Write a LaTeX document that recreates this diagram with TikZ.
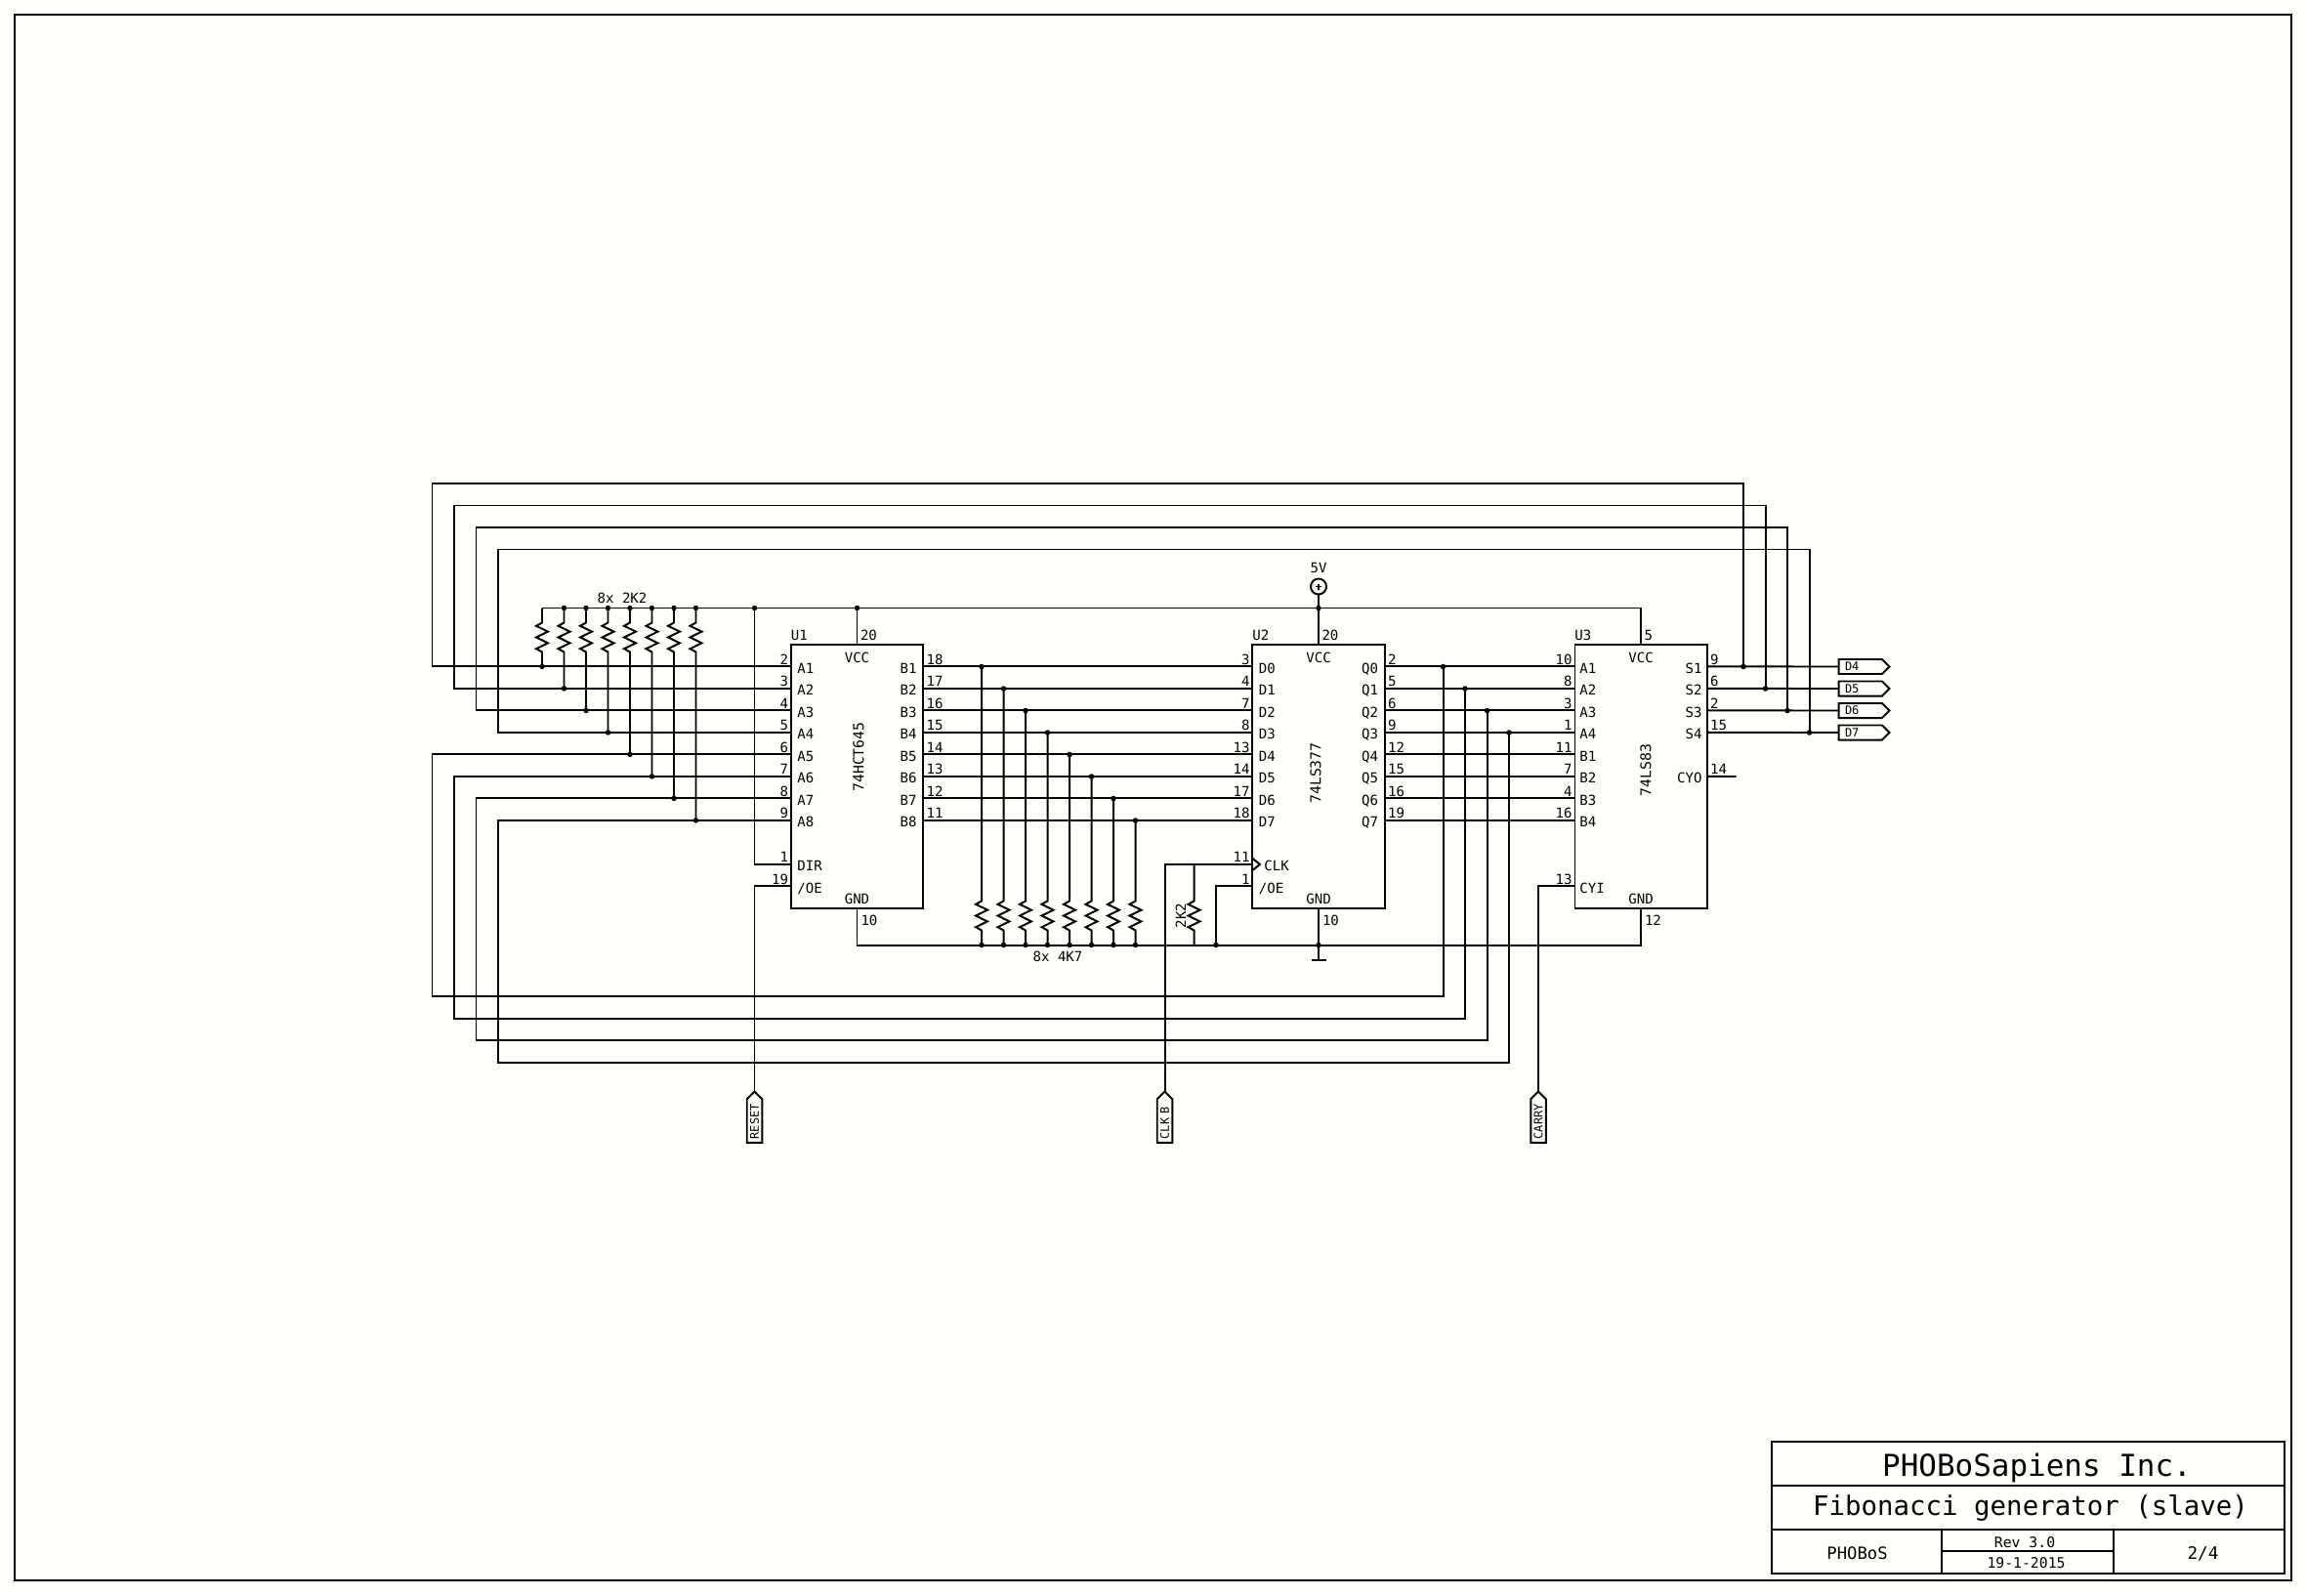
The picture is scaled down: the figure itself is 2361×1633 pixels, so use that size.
\documentclass[tikz,border=0pt]{standalone}
\usepackage{fontspec}
\setmainfont{DejaVu Sans Mono}
\usetikzlibrary{calc, shapes.symbols}
\definecolor{xpaper}{HTML}{FFFFFB}
\newcommand{\fsize}[1]{\fontsize{#1pt}{#1pt}\selectfont}
\newcommand{\zigzag}{-- ++(-6,3.3) -- ++(12,5.85) -- ++(-12,5.85) -- ++(12,5.85) -- ++(-12,5.85) -- ++(6,3.3)}
\tikzset{
  wire/.style={line width=0.56pt, line join=miter},
  chip/.style={wire, draw, inner sep=0, outer sep=0, minimum width=1.35cm, minimum height=2.7cm},
  dot/.style={circle, fill=black, inner sep=0, outer sep=0, minimum size=0.055cm},
  label/.style={font=\fsize{4}, inner sep=0, outer sep=0, anchor=base},
  partname/.style={font=\fsize{4.2}, inner sep=0, outer sep=0, rotate=90},
  htag/.style={wire, draw, signal, signal to=east, font=\fsize{3.4}, inner ysep=0, inner xsep=0.065cm, outer sep=0, minimum height=0.15cm, text width=0.315cm, anchor=west},
  vtag/.style={wire, draw, signal, signal to=east, font=\fsize{3.4}, inner ysep=0, inner xsep=0.035cm, outer sep=0, minimum height=0.155cm, text width=0.375cm, rotate=90, anchor=east},
}
\newcommand{\leftpins}[3]{
  \foreach \pname/\ptext/\pnum/\i in {#3} {
    \coordinate (#1\pname) at ($(#1.north west)+(0,22.5*\i)$);
    \node[label, anchor=base west] (#1\pname t) at ($(#1\pname)+(#2,7)$) {\ptext};
    \node[label, anchor=base east] (#1\pname n) at ($(#1\pname)+(-3,-2)$) {\pnum};
  }
}
\newcommand{\rightpins}[3]{
  \foreach \pname/\ptext/\pnum/\i in {#3} {
    \coordinate (#1\pname) at ($(#1.north east)+(0,22.5*\i)$);
    \node[label, anchor=base east] (#1\pname t) at ($(#1\pname)+(-#2,7)$) {\ptext};
    \node[label, anchor=base west] (#1\pname n) at ($(#1\pname)+(3.5,-2)$) {\pnum};
  }
}

\begin{document}
\begin{tikzpicture}[x=0.01cm, y=-0.01cm]
	\fill[xpaper] (0,0) rectangle (2361,1633);
	\useasboundingbox (0,0) rectangle (2361,1633);
	\draw[wire] (15,15) rectangle (2346,1618);

	\node[chip] (U1) at (877.5,795) {};
	\node[chip] (U2) at (1350,795) {};
	\node[chip] (U3) at (1680,795) {};

	\leftpins{U1}{6.5}{a1/A1/2/1, a2/A2/3/2, a3/A3/4/3, a4/A4/5/4, a5/A5/6/5, a6/A6/7/6, a7/A7/8/7, a8/A8/9/8, dir/DIR/1/10, oe/{/OE}/19/11}
	\rightpins{U1}{6.5}{b1/B1/18/1, b2/B2/17/2, b3/B3/16/3, b4/B4/15/4, b5/B5/14/5, b6/B6/13/6, b7/B7/12/7, b8/B8/11/8}
	\leftpins{U2}{6.5}{d0/D0/3/1, d1/D1/4/2, d2/D2/7/3, d3/D3/8/4, d4/D4/13/5, d5/D5/14/6, d6/D6/17/7, d7/D7/18/8, clk/{\hspace*{0.055cm}CLK}/11/10, oe/{/OE}/1/11}
	\rightpins{U2}{6.5}{q0/Q0/2/1, q1/Q1/5/2, q2/Q2/6/3, q3/Q3/9/4, q4/Q4/12/5, q5/Q5/15/6, q6/Q6/16/7, q7/Q7/19/8}
	\leftpins{U3}{5}{a1/A1/10/1, a2/A2/8/2, a3/A3/3/3, a4/A4/1/4, b1/B1/11/5, b2/B2/7/6, b3/B3/4/7, b4/B4/16/8, cyi/CYI/13/11}
	\rightpins{U3}{5}{s1/S1/9/1, s2/S2/6/2, s3/S3/2/3, s4/S4/15/4, cyo/CYO/14/6}

	\foreach \chip/\vnum/\gnum in {U1/20/10, U2/20/10, U3/5/12} {
		\node[label] (\chip vcc) at ($(\chip.north)+(0,18.5)$) {VCC};
		\node[label] (\chip gnd) at ($(\chip.south)+(0,-4.5)$) {GND};
		\node[label, anchor=base west] (\chip ref) at ($(\chip.north west)+(0,-4)$) {\chip};
		\node[label, anchor=base west] (\chip vn) at ($(\chip.north)+(3.5,-4)$) {\vnum};
		\node[label, anchor=base west] (\chip gn) at ($(\chip.south)+(4,17)$) {\gnum};
	}
	\node[partname] (U1part) at (879,775) {74HCT645};
	\node[partname] (U2part) at (1347,791.5) {74LS377};
	\node[partname] (U3part) at (1685,788.5) {74LS83};

	\draw[wire] ($(U2clk)+(0,-6)$) -- ++(7.5,6) -- ++(-7.5,6);

	\node[wire, draw, circle, inner sep=0, outer sep=0, minimum size=0.16cm] (v5) at (1350,600.5) {};
	\node[label] (v5t) at (1350,586.5) {5V};
	\draw[line width=0.4pt] ($(v5)+(-3,0)$) -- ($(v5)+(3,0)$) ($(v5)+(0,-3)$) -- ($(v5)+(0,3)$);

	\foreach \nn/\i in {D4/1, D5/2, D6/3, D7/4} {
		\node[htag] (tag\nn) at (1882.5,{660+22.5*\i}) {\nn};
		\draw[wire] (U3s\i) -- (tag\nn.west);
	}
	\node[vtag] (reset) at (772.5,1117.5) {RESET};
	\node[vtag] (clkb) at (1192.5,1117.5) {CLK B};
	\node[vtag] (carry) at (1575,1117.5) {CARRY};

	\coordinate (rail) at (555,622.5);
	\coordinate (gnd) at (1350,967.5);
	\coordinate (gbar) at (1350,982.5);
	\coordinate (dirtop) at (772.5,622.5);
	\coordinate (oebase) at (1245,967.5);
	\coordinate (cyoend) at (1777.5,795);

	\draw[wire] (rail) -| (U3.north);
	\draw[wire] (U1.north) -- (U1.north |- rail);
	\draw[wire] (v5.south) -- (U2.north);
	\draw[wire] (U1.south) |- (gnd) -| (U3.south);
	\draw[wire] (U2.south) -- (gbar);
	\draw[wire] ($(gbar)+(-7.5,0)$) -- ($(gbar)+(7.5,0)$);
	\draw[wire] (U1dir) -| (dirtop);
	\draw[wire] (U1oe) -| (reset.east);
	\draw[wire] (U2clk) -| (clkb.east);
	\draw[wire] (U2oe) -| (oebase);
	\draw[wire] (U3cyi) -| (carry.east);
	\draw[wire] (U3cyo) -- (cyoend);
	\draw[wire] (1222.5,885) -- (1222.5,922.5) \zigzag -- (1222.5,967.5);
	\node[label, rotate=90, anchor=base] (r2k2) at (1214,937.5) {2K2};

	\foreach \b/\d [count=\i] in {b1/d0, b2/d1, b3/d2, b4/d3, b5/d4, b6/d5, b7/d6, b8/d7} {
		\draw[wire] (U1\b) -- (U2\d);
	}
	\foreach \q/\a in {q0/a1, q1/a2, q2/a3, q3/a4, q4/b1, q5/b2, q6/b3, q7/b4} {
		\draw[wire] (U2\q) -- (U3\a);
	}

	\foreach \i/\x in {1/555, 2/577.5, 3/600, 4/622.5, 5/645, 6/667.5, 7/690, 8/712.5} {
		\coordinate (pu\i) at (\x,622.5);
		\coordinate (puj\i) at (pu\i |- U1a\i);
		\draw[wire] (pu\i) -- ++(0,15) \zigzag -- (puj\i);
		\node[dot] (pud\i) at (puj\i) {};
	}
	\foreach \i in {2,...,8} {
		\node[dot] (rd\i) at (pu\i) {};
	}
	\foreach \b/\i/\x in {b1/1/1005, b2/2/1027.5, b3/3/1050, b4/4/1072.5, b5/5/1095, b6/6/1117.5, b7/7/1140, b8/8/1162.5} {
		\coordinate (pdj\i) at (\x,{660+22.5*\i});
		\coordinate (pdb\i) at (\x,967.5);
		\draw[wire] (pdj\i) -- (\x,922.5) \zigzag -- (pdb\i);
		\node[dot] (pdt\i) at (pdj\i) {};
		\node[dot] (pdd\i) at (pdb\i) {};
	}

	\foreach \i/\sx/\ty/\lx in {1/1785/495/442.5, 2/1807.5/517.5/465, 3/1830/540/487.5, 4/1852.5/562.5/510} {
		\coordinate (sj\i) at (\sx,{660+22.5*\i});
		\draw[wire] (U1a\i) -| (\lx,\ty) -| (sj\i);
		\node[dot] (sd\i) at (sj\i) {};
	}
	\foreach \i/\a/\qx/\by/\lx in {1/a5/1477.5/1020/442.5, 2/a6/1500/1042.5/465, 3/a7/1522.5/1065/487.5, 4/a8/1545/1087.5/510} {
		\coordinate (qj\i) at (\qx,{660+22.5*\i});
		\draw[wire] (U1\a) -| (\lx,\by) -| (qj\i);
		\node[dot] (qd\i) at (qj\i) {};
	}

	\node[dot] (dU1v) at (U1.north |- rail) {};
	\node[dot] (dU2v) at (U2.north |- rail) {};
	\node[dot] (ddir) at (dirtop) {};
	\node[dot] (dgnd) at (gnd) {};
	\node[dot] (doe) at (oebase) {};

	\node[label] (r8up) at (637,617.5) {8x 2K2};
	\node[label] (r8down) at (1083,984.5) {8x 4K7};

	\draw[wire] (1813.5,1476) rectangle (2338.5,1611);
	\draw[wire] (1813.5,1521) -- (2338.5,1521);
	\draw[wire] (1813.5,1566) -- (2338.5,1566);
	\draw[wire] (1988,1566) -- (1988,1611);
	\draw[wire] (2164,1566) -- (2164,1611);
	\draw[wire] (1988,1588) -- (2164,1588);
	\node[label, font=\fsize{8.8}] (company) at (2085.5,1511) {PHOBoSapiens Inc.};
	\node[label, font=\fsize{7.8}] (title) at (2079,1551.5) {Fibonacci generator (slave)};
	\node[label, font=\fsize{4.9}] (project) at (1901.5,1596.5) {PHOBoS};
	\node[label, font=\fsize{4.2}] (rev) at (2073,1584) {Rev 3.0};
	\node[label, font=\fsize{4.2}] (date) at (2074.5,1605.5) {19-1-2015};
	\node[label, font=\fsize{5}] (sheet) at (2255.5,1596.5) {2/4};
\end{tikzpicture}
\end{document}
